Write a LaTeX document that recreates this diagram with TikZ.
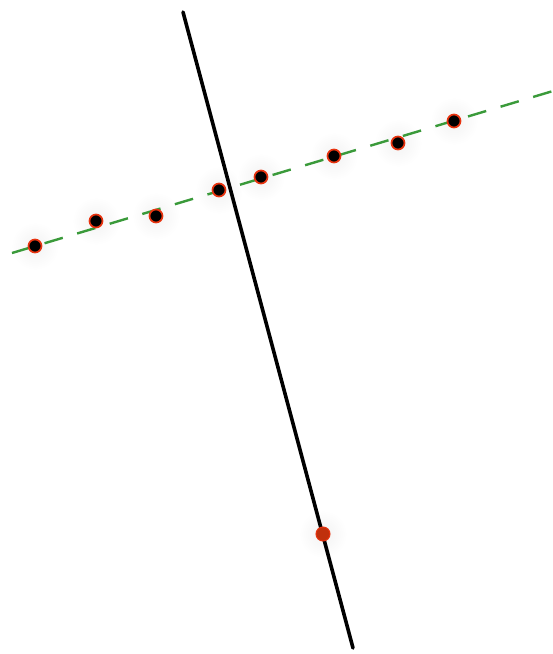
\documentclass[tikz,border=0pt]{standalone}
\begin{document}
\begin{tikzpicture}[x=1pt,y=-1pt,
  pt/.style={circle,fill=black,draw=ptred,line width=1.7pt,minimum size=13pt,inner sep=0pt},
  redpt/.style={circle,fill=ptdark,draw=ptred,line width=1pt,minimum size=14pt,inner sep=0pt},
  glow/.style={circle,inner color=black!5,outer color=white,minimum size=48pt,inner sep=0pt,draw=none}]
\definecolor{ptred}{HTML}{E8330F}
\definecolor{ptdark}{HTML}{C0300C}
\definecolor{lgreen}{HTML}{3A9A3A}
\useasboundingbox (0,0) rectangle (553,654);
\fill[white] (0,0) rectangle (553,654);
\coordinate (g1) at (12,253);
\coordinate (g2) at (553,91);
\coordinate (b1) at (183,12);
\coordinate (b2) at (353,648);
\foreach \x/\y in {35/246,96/221,156/216,219/190,261/177,334/156,398/143,454/121,323/534}
  \node[glow] at (\x,\y) {};
\draw[lgreen,line width=2.4pt,dash pattern=on 19pt off 15pt] (g1) -- (g2);
\draw[black,line width=3.6pt,line cap=round] (b1) -- (b2);
\node[pt] (p1) at (35,246) {};
\node[pt] (p2) at (96,221) {};
\node[pt] (p3) at (156,216) {};
\node[pt] (p4) at (219,190) {};
\node[pt] (p5) at (261,177) {};
\node[pt] (p6) at (334,156) {};
\node[pt] (p7) at (398,143) {};
\node[pt] (p8) at (454,121) {};
\node[redpt] (r) at (323,534) {};
\end{tikzpicture}
\end{document}
